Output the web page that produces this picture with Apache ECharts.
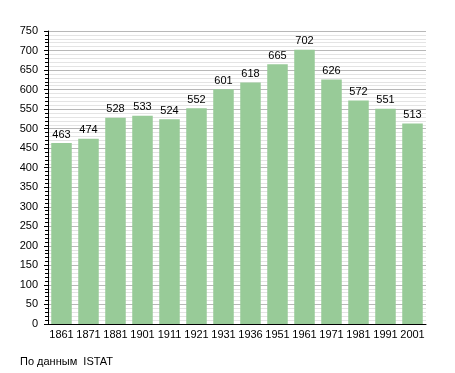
<!DOCTYPE html>
<html><head><meta charset="utf-8">
<script src="https://cdn.jsdelivr.net/npm/echarts@6/dist/echarts.min.js"></script>
<style>html,body{margin:0;padding:0;background:#fff}#c{width:455px;height:373px}</style>
</head><body><div id="c"></div>
<script>
const categories = ['1861','1871','1881','1901','1911','1921','1931','1936','1951','1961','1971','1981','1991','2001'];
const population = [463,474,528,533,524,552,601,618,665,702,626,572,551,513];
const yTicks = {min:0, max:750, interval:50};
const sourceText = 'По данным  ISTAT';

const chart = echarts.init(document.getElementById('c'), null, {renderer:'canvas'});
chart.setOption({
  animation:false,
  backgroundColor:'#fff',
  grid:{left:48, right:29, top:31, bottom:49, containLabel:false},
  graphic:[{type:'text', left:20, top:356, style:{text:sourceText, font:'11px "Liberation Sans", Arial, sans-serif', fill:'#000'}}],
  xAxis:{
    type:'category', data:categories,
    axisLine:{lineStyle:{color:'#000', width:1}},
    axisTick:{show:false},
    axisLabel:{color:'#000', fontSize:11, fontFamily:'Liberation Sans', margin:5, interval:0}
  },
  yAxis:{
    type:'value', min:yTicks.min, max:yTicks.max, interval:yTicks.interval,
    axisLine:{show:true, lineStyle:{color:'#000', width:1}},
    axisTick:{show:true, length:4, lineStyle:{color:'#000'}},
    minorTick:{show:true, splitNumber:5, length:3, lineStyle:{color:'#000'}},
    splitLine:{lineStyle:{color:'#b8b8b8', width:1}},
    minorSplitLine:{show:true, lineStyle:{color:'#e4e4e4', width:1}},
    axisLabel:{color:'#000', fontSize:11, fontFamily:'Liberation Sans', margin:10}
  },
  series:[{
    type:'bar', data:population, barCategoryGap:'24%',
    itemStyle:{color:'#98cb98'},
    label:{show:true, position:'top', color:'#000', fontSize:11, fontFamily:'Liberation Sans', distance:3}
  }]
});
</script></body></html>
